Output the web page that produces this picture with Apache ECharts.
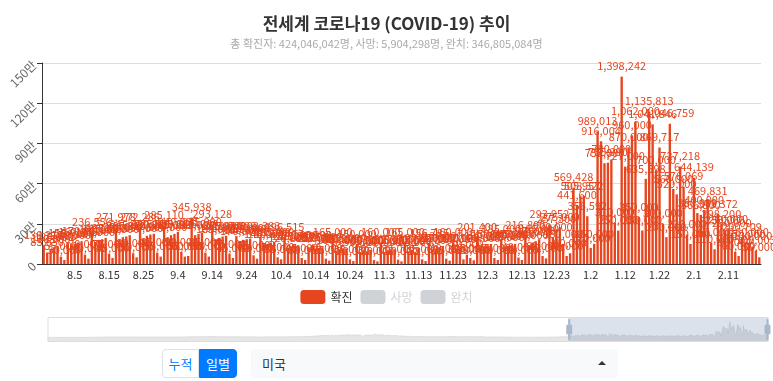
<!DOCTYPE html>
<html><head><meta charset="utf-8">
<script src="https://cdn.jsdelivr.net/npm/echarts@6/dist/echarts.min.js"></script>
<style>
body{margin:0;background:#fff;font-family:"Noto Sans CJK KR","Noto Sans",sans-serif;}
#chart{position:absolute;left:0;top:0;width:773px;height:346px;}
.btns{position:absolute;left:162px;top:349px;height:29px;display:flex;font-size:13px;}
.btn{box-sizing:border-box;height:29px;line-height:27px;padding:0;text-align:center;border:1px solid #007bff;white-space:nowrap;}
.b1{color:#007bff;background:#fff;border-color:#dee2e6;border-radius:4px 0 0 4px;width:37px;}
.b2{color:#fff;background:#007bff;border-radius:0 4px 4px 0;width:38px;}
.sel{position:absolute;left:251px;top:349px;width:367px;height:29px;background:#f8f9fa;border-radius:4px;font-size:13px;line-height:29px;color:#333;}
.sel span{position:absolute;left:11px;}
.sel i{position:absolute;right:12px;top:12px;width:0;height:0;border-left:4px solid transparent;border-right:4px solid transparent;border-bottom:4px solid #333;}
</style>
</head><body>
<div id="chart"></div>
<div class="btns"><div class="btn b1">누적</div><div class="btn b2">일별</div></div>
<div class="sel"><span>미국</span><i></i></div>
<script>
// Daily confirmed (US), chart dates 2020-02-02 .. 2020-12-31
const cases2020 = [
0,0,0,1,0,0,0,0,0,1,0,0,1,0,0,0,0,0,0,0,2,0,0,0,3,0,1,3,
20,16,23,30,60,70,80,120,200,270,370,450,580,740,830,1200,1700,2800,4500,5600,6900,9300,10800,11700,13900,18000,18500,19800,19400,21400,26000,
28000,32000,33000,34000,26000,29000,31000,33000,34000,33000,30000,27000,25000,27000,30000,31000,32000,30000,26000,28000,26000,29000,31000,36000,33000,27000,24000,25000,28000,30000,
33000,29000,25000,22000,24000,27000,28000,27000,25000,20000,18000,22000,21000,27000,25000,24000,20000,21000,20000,22000,27000,24000,23000,20000,19000,18000,19000,21000,24000,25000,21000,
21000,20000,20000,21000,25000,23000,18000,17000,18000,21000,23000,25000,25000,19000,20000,24000,27000,28000,33000,31000,28000,30000,36000,38000,39000,45000,44000,41000,41000,47000,
52000,55000,57000,45000,49000,50000,60000,62000,63000,67000,63000,59000,60000,65000,68000,76000,71000,63000,60000,61000,66000,70000,73000,76000,67000,56000,60000,65000,70000,69000,68000,
57000,47000,46000,51000,54000,57000,59000,55000,47000,48000,53000,54000,52000,62000,55000,43000,38000,45000,47000,45000,48000,44000,34000,37000,38000,45000,46000,48000,43000,34000,35000,
41000,31000,42000,51000,42000,31000,26000,25000,33000,35000,45000,39000,34000,34000,38000,39000,44000,48000,42000,37000,51000,38000,39000,44000,48000,43000,34000,37000,43000,39000,
45000,54000,49000,36000,38000,43000,51000,57000,58000,55000,47000,43000,48000,58000,63000,69000,57000,48000,58000,60000,62000,71000,83000,81000,62000,66000,73000,78000,89000,99000,81000,
75000,84000,94000,102000,119000,127000,131000,110000,119000,133000,142000,162000,176000,168000,139000,158000,156000,171000,178000,194000,178000,141000,167000,174000,180000,106000,205000,145000,136000,157000,
181000,200000,211000,226000,209000,176000,195000,216000,220000,225000,233000,209000,189000,199000,202000,245000,240000,248000,195000,190000,196000,203000,228000,196000,95000,98000,152000,177000,200000,232000,201000
];
// chart dates 2021-01-01 .. 2021-07-26
const cases2021a = [
150000,204000,205000,180000,234000,255000,278000,300000,258000,214000,215000,224000,230000,234000,242000,200000,178000,141000,176000,185000,192000,189000,172000,140000,149000,147000,155000,164000,168000,143000,111000,
127000,112000,121000,124000,134000,105000,88000,86000,92000,96000,104000,99000,86000,64000,54000,63000,71000,70000,80000,69000,56000,56000,72000,74000,79000,77000,65000,52000,
59000,57000,66000,67000,68000,58000,41000,45000,58000,57000,63000,66000,54000,36000,53000,54000,59000,60000,76000,51000,35000,51000,56000,87000,68000,76000,58000,40000,67000,68000,64000,
78000,80000,51000,37000,78000,60000,76000,80000,85000,61000,46000,76000,76000,75000,72000,79000,57000,37000,68000,60000,64000,68000,64000,53000,34000,52000,49000,55000,55000,56000,
41000,23000,45000,39000,44000,45000,44000,31000,21000,36000,34000,39000,37000,31000,22000,14000,30000,26000,29000,27000,29000,17000,13000,24000,21000,25000,22000,17000,11000,7000,9000,
13000,18000,15000,17000,12000,6000,16000,12000,15000,14000,15000,12000,5000,12000,10000,13000,12000,11000,8000,4000,13000,11000,14000,12000,17000,7000,4000,16000,14000,17000,
18000,20000,8000,3000,8000,31000,21000,24000,26000,12000,7000,37000,28000,32000,33000,42000,20000,14000,53000,44000,50000,56000,72000,28000,18000,107000
];
// chart dates 2021-07-27 .. 2022-02-20 (visible window)
const casesWindow = [
136215,85630,110000,125000,135000,55000,30000,
155012,140000,150000,160000,170000,70000,40000,
236556,165000,180000,185000,195000,75000,45000,
271978,185000,200000,205000,215000,80000,50000,
272286,190000,210000,220000,225000,85000,55000,
285110,200000,215000,225000,240000,90000,55000,
60000,345938,215000,225000,235000,85000,55000,
293128,185000,195000,205000,210000,75000,45000,
207898,170000,180000,185000,190000,65000,40000,
203383,145000,150000,160000,165000,50000,35000,
196515,120000,130000,135000,140000,45000,30000,
125000,140000,115000,120000,125000,40000,25000,
165000,100000,110000,112000,115000,35000,22000,
150000,90000,100000,95000,105000,30000,20000,
160000,90000,100000,105000,110000,32000,20000,
165000,95000,105000,85000,120000,35000,22000,
156785,105000,115000,120000,130000,40000,25000,
160000,110000,120000,35000,70000,45000,28000,
201400,120000,130000,140000,150000,45000,30000,
185000,125000,135000,145000,150000,48000,30000,
216800,140000,160000,170000,185000,60000,42000,
293952,200000,257300,275000,150000,60000,80000,
569428,441600,505957,508322,356592,120000,150000,
989013,916004,752000,755990,780000,310000,250000,
1398242,727000,870000,960000,1062000,350000,250000,
635598,1135813,1041846,700000,869717,300000,200000,
1046759,560000,520000,727218,576069,220000,150000,
644139,380000,366800,400000,469831,160000,110000,
373372,298200,250000,260000,230000,90000,60000,
200709,150000,160000,130000,100003,50000
];
const firstDate = [2020, 2, 2];
const yTicks = ['0','30만','60만','90만','120만','150만'];
const seriesNames = ['확진','사망','완치'];
const titleText = '전세계 코로나19 (COVID-19) 추이';
const subText = '총 확진자: 424,046,042명, 사망: 5,904,298명, 완치: 346,805,084명';

const cases = cases2020.concat(cases2021a, casesWindow);
const dates = [];
{
  const d = new Date(Date.UTC(firstDate[0], firstDate[1]-1, firstDate[2]));
  for (let i = 0; i < cases.length; i++) {
    dates.push((d.getUTCMonth()+1) + '.' + d.getUTCDate());
    d.setUTCDate(d.getUTCDate()+1);
  }
}
const RED = '#e5461f';
const chart = echarts.init(document.getElementById('chart'));
chart.setOption({
  animation:false,
  textStyle:{fontFamily:'"Noto Sans CJK KR","Noto Sans",sans-serif'},
  title:{text:titleText, subtext:subText, left:'center', top:10, itemGap:6,
    textStyle:{fontSize:17,fontWeight:'bold',color:'#333'},
    subtextStyle:{fontSize:11,color:'#aaa'}},
  legend:{data:seriesNames, top:285, left:'center',
    selected:{'사망':false,'완치':false}, textStyle:{fontSize:12,color:'#333'}},
  grid:{left:42,right:12,top:63,bottom:82},
  xAxis:{type:'category', data:dates,
    axisLine:{lineStyle:{color:'#333'}},
    axisLabel:{interval:9,color:'#333',fontSize:11,margin:5}},
  yAxis:{type:'value', min:0, max:1500000, interval:300000,
    axisLine:{show:true,lineStyle:{color:'#333'}}, axisTick:{show:true},
    axisLabel:{rotate:45,color:'#666',fontSize:12, formatter:(v)=>yTicks[Math.round(v/300000)]},
    splitLine:{lineStyle:{color:'#ddd'}}},
  dataZoom:[{type:'slider', xAxisIndex:0, startValue:541, endValue:cases.length-1,
    left:45, right:7, top:317, height:25, brushSelect:false, showDetail:false,
    borderColor:'#ddd', fillerColor:'rgba(167,183,204,0.4)',
    handleIcon:'M8.2,13.6V3.9H6.3v9.7H3.1v14.9h3.3v9.7h1.8v-9.7h3.3V13.6H8.2z M9.7,24.4H4.8v-1.4h4.9V24.4z M9.7,19.1H4.8v-1.4h4.9V19.1z',
    handleSize:'80%', handleStyle:{color:'#a7b7cc',borderColor:'#a7b7cc'},
    dataBackground:{lineStyle:{color:'#ccc',width:0.5},areaStyle:{color:'#e6e6e6',opacity:1}},
    selectedDataBackground:{lineStyle:{color:'#bbb',width:0.5},areaStyle:{color:'#ddd',opacity:1}}}],
  series:[
    {name:'확진', type:'bar', data:cases, itemStyle:{color:RED},
     label:{show:true, position:'top', color:RED, fontSize:11,
       formatter:(p)=>p.value.toLocaleString('en-US')}},
    {name:'사망', type:'bar', data:[], itemStyle:{color:'#555'}},
    {name:'완치', type:'bar', data:[], itemStyle:{color:'#2a9d8f'}}
  ]
});
</script>
</body></html>
